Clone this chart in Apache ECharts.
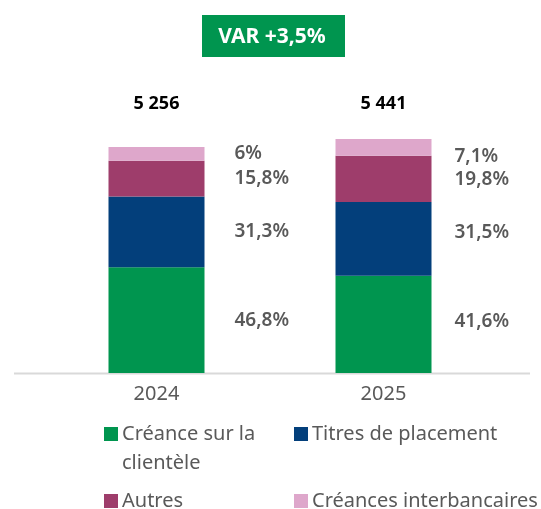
<!DOCTYPE html>
<html>
<head>
<meta charset="utf-8">
<script src="https://cdn.jsdelivr.net/npm/echarts@6/dist/echarts.min.js"></script>
<style>
html,body{margin:0;padding:0;background:#fff;}
#chart{width:541px;height:509px;}
</style>
</head>
<body>
<div id="chart"></div>
<script>
const categories = ['2024', '2025'];
const totals = [5256, 5441];
const creanceClientele = [2460, 2263];
const titresPlacement = [1645, 1714];
const autres = [830, 1077];
const creancesInterbancaires = [321, 387];
const pctClientele = ['46,8%', '41,6%'];
const pctTitres = ['31,3%', '31,5%'];
const pctAutres = ['15,8%', '19,8%'];
const pctInterbancaires = ['6%', '7,1%'];
const seriesNames = ['Créance sur la clientèle', 'Titres de placement', 'Autres', 'Créances interbancaires'];
const variationText = 'VAR +3,5%';

const FONT = '"Noto Sans", "Open Sans", sans-serif';
const colors = ['#00954F', '#033F7B', '#9E3D6B', '#DEA7CB'];
const grey = '#595959';

function fmtTotal(v) {
  return String(v).replace(/\B(?=(\d{3})+(?!\d))/g, ' ');
}

// per-category label tweaks (style only)
const labelTweaks = [
  [{}, {distance: 23, offset: [0, -3]}],
  [{}, {distance: 23, offset: [0, -6]}],
  [{}, {distance: 23, offset: [0, 1]}],
  [{}, {distance: 23, offset: [0, 9]}]
];

function makeSeries(idx, values, pcts) {
  return {
    name: seriesNames[idx],
    type: 'bar',
    stack: 'total',
    barWidth: 96,
    itemStyle: {color: colors[idx]},
    label: {
      show: true,
      position: 'right',
      distance: 30,
      color: grey,
      fontFamily: FONT,
      fontWeight: 600,
      fontSize: 19,
      formatter: p => pcts[p.dataIndex]
    },
    data: values.map((v, i) => ({value: v, label: labelTweaks[idx][i]}))
  };
}

const chart = echarts.init(document.getElementById('chart'), null, {renderer: 'canvas'});

function legendFor(idx, left, top, text, lh) {
  return {
    show: true,
    left: left,
    top: top,
    data: [seriesNames[idx]],
    icon: 'rect',
    itemWidth: 14,
    itemHeight: 14,
    itemGap: 0,
    padding: 0,
    selectedMode: false,
    formatter: () => text,
    textStyle: {color: grey, fontFamily: FONT, fontSize: 20, lineHeight: lh, padding: [0, 0, 0, -1]}
  };
}

chart.setOption({
  animation: false,
  backgroundColor: '#fff',
  grid: {left: 43, right: 44, top: 115, bottom: 136},
  xAxis: [
    {
      type: 'category',
      data: categories,
      position: 'bottom',
      axisLine: {show: false},
      axisTick: {show: false},
      axisLabel: {color: grey, fontFamily: FONT, fontSize: 20, margin: 11}
    },
    {
      type: 'category',
      data: categories,
      position: 'top',
      axisLine: {show: false},
      axisTick: {show: false},
      axisLabel: {
        color: '#000', fontFamily: FONT, fontSize: 18, fontWeight: 'bold', margin: 2,
        formatter: (v, i) => fmtTotal(totals[i])
      }
    }
  ],
  yAxis: {type: 'value', min: 0, max: 6000, show: false, splitLine: {show: false}},
  legend: [
    legendFor(0, 104, 427 - 43.5 + 7, '\nCréance sur la\nclientèle', 29),
    legendFor(1, 294, 427 - 14.5 + 7, 'Titres de placement', 29),
    legendFor(2, 104, 494 - 14.5 + 7, 'Autres', 29),
    legendFor(3, 294, 494 - 14.5 + 7, 'Créances interbancaires', 29)
  ],
  series: [
    makeSeries(0, creanceClientele, pctClientele),
    makeSeries(1, titresPlacement, pctTitres),
    makeSeries(2, autres, pctAutres),
    makeSeries(3, creancesInterbancaires, pctInterbancaires)
  ],
  graphic: [
    {type: 'line', shape: {x1: 14, y1: 373.5, x2: 530, y2: 373.5}, style: {stroke: '#D9D9D9', lineWidth: 2}, z: 0},
    {type: 'rect', shape: {x: 202, y: 15, width: 143, height: 42}, style: {fill: '#00954F'}},
    {type: 'text', style: {text: variationText, x: 272, y: 37, align: 'center', verticalAlign: 'middle', fill: '#fff', font: 'bold 21px ' + FONT}}
  ]
});
</script>
</body>
</html>
